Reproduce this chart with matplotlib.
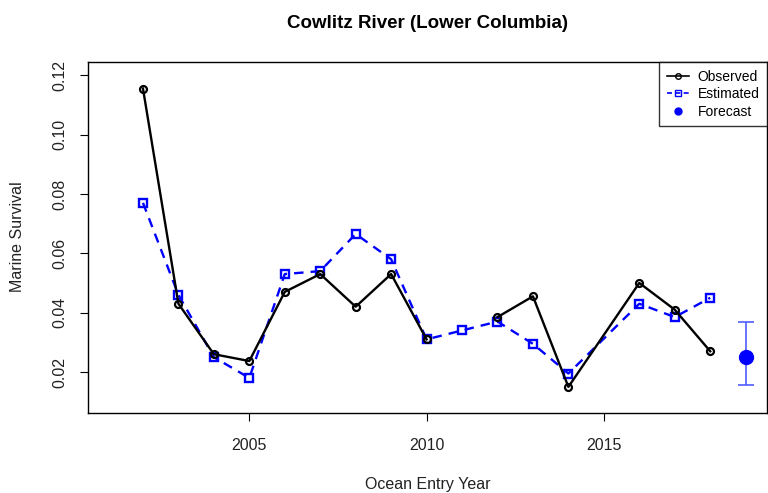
import numpy as np
import matplotlib
matplotlib.use('Agg')
import matplotlib.pyplot as plt
from matplotlib.lines import Line2D

plt.rcParams['font.family'] = ['Liberation Sans', 'DejaVu Sans']

# observed survival (2015 not sampled, 2011 missing)
obs_years = [2002, 2003, 2004, 2005, 2006, 2007, 2008, 2009, 2010, 2011,
             2012, 2013, 2014, 2016, 2017, 2018]
obs_vals = [0.1155, 0.043, 0.026, 0.0237, 0.047, 0.053, 0.042, 0.053, 0.031, np.nan,
            0.0385, 0.0455, 0.015, 0.050, 0.041, 0.027]

est_years = [2002, 2003, 2004, 2005, 2006, 2007, 2008, 2009, 2010, 2011,
             2012, 2013, 2014, 2016, 2017, 2018]
est_vals = [0.077, 0.046, 0.025, 0.018, 0.053, 0.054, 0.0665, 0.058, 0.031, 0.034,
            0.037, 0.0295, 0.0195, 0.043, 0.0385, 0.045]

fc_year = 2019
fc_val = 0.025
fc_low = 0.0155
fc_high = 0.037

fig = plt.figure(figsize=(7.68, 4.93), dpi=100)
ax = fig.add_axes([0.1146, 0.1623, 0.884, 0.7117])

ax.plot(est_years, est_vals, color='blue', lw=1.7, ls=(0, (4, 3)), marker='s',
        mfc='none', mec='blue', ms=5.5, mew=1.7, label='Estimated')
ax.plot(obs_years, obs_vals, color='black', lw=1.7, marker='o',
        mfc='none', mec='black', ms=5, mew=1.6, label='Observed')
ax.errorbar([fc_year], [fc_val], yerr=[[fc_val - fc_low], [fc_high - fc_val]],
            fmt='o', color='blue', ms=10, ecolor='#4f5bff', elinewidth=1.2,
            capsize=6, capthick=1.2, label='Forecast')

ax.set_xlim(2000.45, 2019.6)
ax.set_ylim(0.0062, 0.1244)
ax.set_xticks([2005, 2010, 2015])
ax.set_yticks([0.02, 0.04, 0.06, 0.08, 0.10, 0.12])
ax.set_yticklabels(['0.02', '0.04', '0.06', '0.08', '0.10', '0.12'], rotation=90, va='center')
ax.tick_params(direction='out', length=6, labelsize=11.5, labelcolor='#222222')
ax.tick_params(axis='x', pad=12)
ax.tick_params(axis='y', pad=9)
for s in ax.spines.values():
    s.set_linewidth(1.0)

fig.text(0.5 + 0.1146 / 2 - 0.0013, 1 - 23 / 493, 'Cowlitz River (Lower Columbia)',
         fontsize=13.5, fontweight='bold', ha='center', va='center')
fig.text(0.1146 + 0.884 / 2, 1 - 484 / 493, 'Ocean Entry Year', fontsize=11.5,
         ha='center', va='center', color='#222222')
fig.text(18 / 768, 1 - 237 / 493, 'Marine Survival', fontsize=11.5, rotation=90,
         ha='center', va='center', color='#222222')

handles = [
    Line2D([], [], color='black', lw=1.2, marker='o', mfc='none', ms=4),
    Line2D([], [], color='blue', lw=1.2, ls=(0, (3, 2)), marker='s', mfc='none', ms=4),
    Line2D([], [], color='blue', lw=0, marker='o', ms=5),
]
leg = ax.legend(handles, ['Observed', 'Estimated', 'Forecast'], loc='upper right',
                borderaxespad=0, fancybox=False, edgecolor='black', fontsize=10,
                handlelength=1.6, labelspacing=0.25, borderpad=0.55, handletextpad=0.6)
leg.get_frame().set_linewidth(1.0)

fig.savefig('out.png', dpi=100)
